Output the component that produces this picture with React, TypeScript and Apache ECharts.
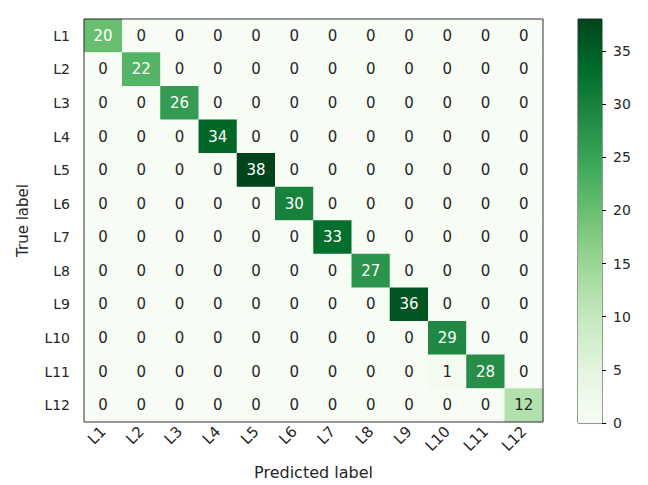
import React, { useEffect, useRef } from "react";
import * as echarts from "echarts";

const labels = ["L1", "L2", "L3", "L4", "L5", "L6", "L7", "L8", "L9", "L10", "L11", "L12"];
// Correct predictions per class (diagonal of the confusion matrix)
const diagonal = [20, 22, 26, 34, 38, 30, 33, 27, 36, 29, 28, 12];
// Off-diagonal misclassifications: [trueIndex, predictedIndex, count]
const misses: [number, number, number][] = [[10, 9, 1]];
const colorbarTicks = [0, 5, 10, 15, 20, 25, 30, 35];
const vmax = 38;

// matplotlib "Greens" colormap stops, light to dark
const greens = ["#f7fcf5", "#e5f5e0", "#c7e9c0", "#a1d99b", "#74c476", "#41ab5d", "#238b45", "#006d2c", "#00441b"];

const FONT = "DejaVu Sans";
const TEXT = "#262626";

export default function App() {
  const ref = useRef<HTMLDivElement>(null);

  useEffect(() => {
    if (!ref.current) return;
    const chart = echarts.init(ref.current, null, { renderer: "svg" });

    const n = labels.length;
    const matrix: number[][] = [];
    for (let i = 0; i < n; i++) {
      matrix.push(labels.map((_, j) => (i === j ? diagonal[i] : 0)));
    }
    misses.forEach(([i, j, v]) => (matrix[i][j] = v));

    const thresh = vmax / 2;
    const cells: any[] = [];
    for (let i = 0; i < n; i++) {
      for (let j = 0; j < n; j++) {
        const v = matrix[i][j];
        cells.push({
          value: [j, i, v],
          label: { color: v > thresh ? "#ffffff" : TEXT },
        });
      }
    }

    // Vertical gradient for the colorbar: offset 0 is the top (darkest)
    const last = greens.length - 1;
    const gradStops = greens.map((_, k) => ({ offset: k / last, color: greens[last - k] }));

    chart.setOption({
      animation: false,
      textStyle: { fontFamily: FONT },
      grid: [
        { left: 84, top: 19, width: 459, height: 404, show: true, borderColor: "#333", borderWidth: 1, backgroundColor: "transparent", z: 5 },
        { left: 578, top: 19, width: 24, height: 404, show: true, borderColor: "#333", borderWidth: 1, backgroundColor: "transparent" },
      ],
      xAxis: [
        {
          gridIndex: 0,
          type: "category",
          data: labels,
          axisLine: { show: false },
          axisTick: { alignWithLabel: true, length: 4, lineStyle: { color: "#000" } },
          axisLabel: { rotate: 45, fontSize: 15, color: TEXT, margin: 7, fontFamily: FONT },
          splitLine: { show: false },
          name: "Predicted label",
          nameLocation: "middle",
          nameGap: 42,
          nameTextStyle: { fontSize: 16, color: TEXT, fontFamily: FONT },
        },
        {
          gridIndex: 1,
          type: "category",
          data: [""],
          show: false,
        },
      ],
      yAxis: [
        {
          gridIndex: 0,
          type: "category",
          data: labels,
          inverse: true,
          axisLine: { show: false },
          axisTick: { alignWithLabel: true, length: 4, lineStyle: { color: "#000" } },
          axisLabel: { fontSize: 14, color: TEXT, margin: 14, fontFamily: FONT },
          splitLine: { show: false },
          name: "True label",
          nameLocation: "middle",
          nameGap: 54,
          nameRotate: 90,
          nameTextStyle: { fontSize: 15, color: TEXT, fontFamily: FONT },
        },
        {
          gridIndex: 1,
          type: "value",
          min: 0,
          max: vmax,
          interval: 5,
          position: "right",
          axisLine: { show: false },
          axisTick: { show: true, length: 4, lineStyle: { color: "#000" } },
          axisLabel: {
            fontSize: 14, color: TEXT, margin: 11, fontFamily: FONT, showMaxLabel: false,
            formatter: (v: number) => (colorbarTicks.includes(v) ? String(v) : ""),
          },
          splitLine: { show: false },
        },
      ],
      visualMap: {
        show: false,
        type: "continuous",
        min: 0,
        max: vmax,
        dimension: 2,
        seriesIndex: [0],
        inRange: { color: greens },
      },
      series: [
        {
          type: "heatmap",
          xAxisIndex: 0,
          yAxisIndex: 0,
          data: cells,
          itemStyle: { borderWidth: 0 },
          label: {
            show: true,
            fontSize: 15,
            fontFamily: FONT,
            formatter: (p: any) => String(p.value[2]),
          },
          emphasis: { disabled: true },
        },
        {
          type: "bar",
          xAxisIndex: 1,
          yAxisIndex: 1,
          data: [vmax],
          barWidth: "100%",
          silent: true,
          itemStyle: {
            color: new echarts.graphic.LinearGradient(0, 0, 0, 1, gradStops),
          },
        },
      ],
    });

    return () => chart.dispose();
  }, []);

  return (
    <div
      ref={ref}
      style={{ position: "fixed", left: 0, top: 0, width: 648, height: 485, background: "#fff" }}
    />
  );
}
